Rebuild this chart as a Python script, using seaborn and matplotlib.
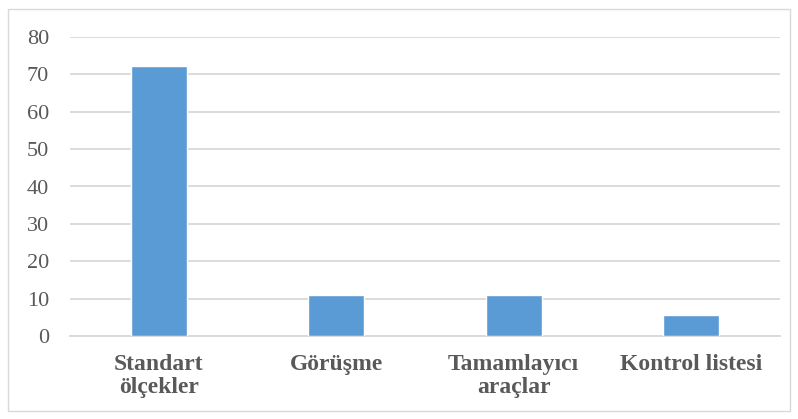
import matplotlib
matplotlib.use('Agg')
import matplotlib.pyplot as plt
import seaborn as sns
import pandas as pd

categories = ['Standart\nölçekler', 'Görüşme', 'Tamamlayıcı\naraçlar', 'Kontrol listesi']
values = [72.2, 11.1, 11.1, 5.6]
yticks = [0, 10, 20, 30, 40, 50, 60, 70, 80]

df = pd.DataFrame({'kategori': categories, 'deger': values})

sns.set_theme(style='white')
plt.rcParams['font.family'] = ['Liberation Serif', 'DejaVu Serif']

fig = plt.figure(figsize=(7.98, 4.19), dpi=100)
ax = fig.add_axes([70 / 798, 1 - 336 / 419, 710 / 798, 299 / 419])

sns.barplot(data=df, x='kategori', y='deger', color='#5B9BD5', width=0.315,
            saturation=1, ax=ax, zorder=3)

ax.set_ylim(0, 80)
ax.set_xlim(-0.5, 3.5)
ax.set_yticks(yticks)
ax.grid(axis='y', color='#D9D9D9', linewidth=1.3, zorder=0)
ax.grid(axis='x', visible=False)
for s in ['top', 'right', 'left']:
    ax.spines[s].set_visible(False)
ax.spines['bottom'].set_color('#D9D9D9')
ax.spines['bottom'].set_linewidth(1.3)
ax.set_xlabel('')
ax.set_ylabel('')
ax.tick_params(axis='y', labelsize=16, labelcolor='#595959', length=0, pad=15)
ax.tick_params(axis='x', labelsize=17, labelcolor='#595959', length=0, pad=13)
for lbl in ax.get_xticklabels():
    lbl.set_fontweight('bold')
    lbl.set_linespacing(1.15)

# border around the chart area
border = plt.Rectangle((8 / 798, 8 / 419), 782 / 798, 402 / 419, transform=fig.transFigure,
                       fill=False, edgecolor='#D9D9D9', linewidth=1)
fig.patches.append(border)

fig.savefig('out.png', dpi=100)
